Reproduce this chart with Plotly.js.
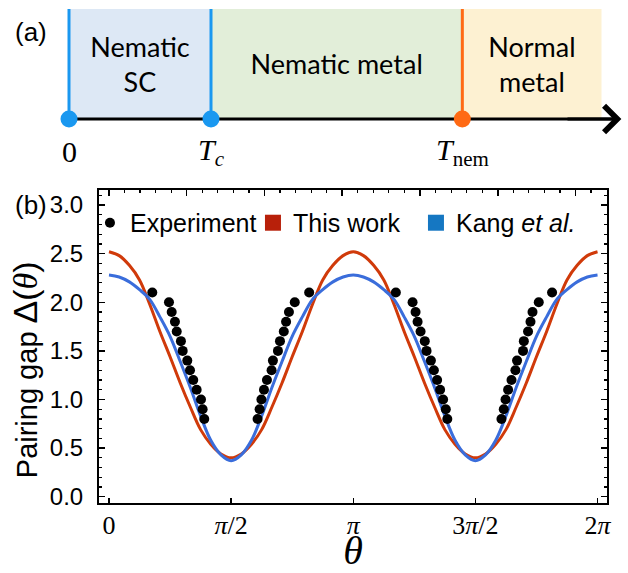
<!DOCTYPE html>
<html><head><meta charset="utf-8">
<script src="https://cdn.plot.ly/plotly-3.0.1.min.js"></script>
<style>html,body{margin:0;padding:0;background:#fff}#chart{width:628px;height:573px}</style>
</head><body><div id="chart"></div>
<script>
// ---------- Panel (a): phase diagram ----------
const phaseNames = ['Nematic<br>SC', 'Nematic metal', 'Normal<br>metal'];
const phaseEdges = [0, 1.0, 2.77, 3.75];
const phaseColors = ['#dde8f5', '#e2eed9', '#fdf1d2'];
const transitionT = [0, 1.0, 2.77];
const transitionLabels = ['0', '<i>T</i><sub><i>c</i></sub>', '<i>T</i><sub>nem</sub>'];
const transitionColors = ['#1a98f0', '#1a98f0', '#ff6a14'];
const axisEndT = 3.89;

// ---------- Panel (b): pairing gap ----------
const thetaDeg = [0,7.5,15,22.5,30,37.5,45,52.5,60,67.5,75,82.5,90,
  97.5,105,112.5,120,127.5,135,142.5,150,157.5,165,172.5,180,
  187.5,195,202.5,210,217.5,225,232.5,240,247.5,255,262.5,270,
  277.5,285,292.5,300,307.5,315,322.5,330,337.5,345,352.5,360];
const thisWork = [2.52,2.48,2.38,2.23,1.98,1.70,1.44,1.17,0.92,0.69,0.54,0.44,0.40,
  0.44,0.54,0.69,0.92,1.17,1.44,1.70,1.98,2.23,2.38,2.48,2.52,
  2.48,2.38,2.23,1.98,1.70,1.44,1.17,0.92,0.69,0.54,0.44,0.40,
  0.44,0.54,0.69,0.92,1.17,1.44,1.70,1.98,2.23,2.38,2.48,2.52];
const kang = [2.28,2.26,2.21,2.13,2.03,1.85,1.65,1.39,1.12,0.83,0.58,0.43,0.37,
  0.43,0.58,0.83,1.12,1.39,1.65,1.85,2.03,2.13,2.21,2.26,2.28,
  2.26,2.21,2.13,2.03,1.85,1.65,1.39,1.12,0.83,0.58,0.43,0.37,
  0.43,0.58,0.83,1.12,1.39,1.65,1.85,2.03,2.13,2.21,2.26,2.28];
const expThetaDeg = [31.9,44.2,46.2,48.6,49.9,53.0,54.3,57.7,59.7,62.1,64.6,67.8,69.0,70.2,
  109.5,111.0,112.3,114.2,116.4,119.8,120.8,124.5,126.0,128.8,130.5,132.6,136.9,147.5,
  211.4,223.7,225.9,227.4,229.6,232.7,234.0,237.2,239.4,241.8,244.0,246.2,248.2,249.3,
  289.2,290.9,292.2,294.1,296.6,299.5,300.7,305.1,305.7,308.8,310.6,312.1,316.7,326.5];
const expGap = [2.1,2.0,1.9,1.8,1.7,1.6,1.5,1.4,1.3,1.2,1.1,1.0,0.9,0.8,
  0.8,0.9,1.0,1.1,1.2,1.3,1.4,1.5,1.6,1.7,1.8,1.9,2.0,2.1,
  2.1,2.0,1.9,1.8,1.7,1.6,1.5,1.4,1.3,1.2,1.1,1.0,0.9,0.8,
  0.8,0.9,1.0,1.1,1.2,1.3,1.4,1.5,1.6,1.7,1.8,1.9,2.0,2.1];
const xTickVals = [0, Math.PI/2, Math.PI, 3*Math.PI/2, 2*Math.PI];
const xTickText = ['0', '<i>π</i>/2', '<i>π</i>', '3<i>π</i>/2', '2<i>π</i>'];
const seriesNames = ['Experiment', 'This work', 'Kang <i>et al.</i>'];
const lineColors = ['#d03a0a', '#3a6ddb'];
const legendColors = ['#000000', '#b8200a', '#1577c2'];
const yTitle = 'Pairing gap <span style="font-size:34px">Δ(<span style="font-family:Liberation Serif"><i>θ</i></span>)</span>';

const rad = d => d * Math.PI / 180;
const SANS = '"Liberation Sans", Arial, sans-serif';
const SERIF = '"Liberation Serif", "Times New Roman", serif';

const traces = [];
// phase regions
traces.push({
  type: 'bar', xaxis: 'x3', yaxis: 'y3',
  x: phaseNames.map((_, i) => (phaseEdges[i] + phaseEdges[i+1]) / 2),
  width: phaseNames.map((_, i) => phaseEdges[i+1] - phaseEdges[i]),
  y: phaseNames.map(() => 1), base: 0,
  marker: {color: phaseColors, line: {width: 0}},
  text: phaseNames, textposition: 'inside', insidetextanchor: 'middle',
  textangle: 0, constraintext: 'none',
  textfont: {family: 'Lato, "Open Sans", sans-serif', size: 27, color: '#000'},
  hoverinfo: 'skip', showlegend: false
});
// temperature axis line
traces.push({
  type: 'scatter', mode: 'lines', xaxis: 'x3', yaxis: 'y3',
  x: [transitionT[0], axisEndT - 0.03], y: [0, 0],
  line: {color: '#000', width: 3}, hoverinfo: 'skip', showlegend: false
});
// transition lines
transitionT.forEach((t, i) => {
  traces.push({
    type: 'scatter', mode: 'lines', xaxis: 'x3', yaxis: 'y3',
    x: [t, t], y: [0, 1], line: {color: transitionColors[i], width: 3},
    hoverinfo: 'skip', showlegend: false
  });
});
traces.push({
  type: 'scatter', mode: 'markers', xaxis: 'x3', yaxis: 'y3',
  x: transitionT, y: transitionT.map(() => 0),
  marker: {size: 17, color: transitionColors}, cliponaxis: false,
  hoverinfo: 'skip', showlegend: false
});

// panel b curves
traces.push({
  type: 'scatter', mode: 'lines', x: thetaDeg.map(rad), y: thisWork,
  line: {color: lineColors[0], width: 3, shape: 'spline', smoothing: 1},
  showlegend: false, hoverinfo: 'skip'
});
traces.push({
  type: 'scatter', mode: 'lines', x: thetaDeg.map(rad), y: kang,
  line: {color: lineColors[1], width: 3, shape: 'spline', smoothing: 1},
  showlegend: false, hoverinfo: 'skip'
});
traces.push({
  type: 'scatter', mode: 'markers', name: seriesNames[0],
  x: expThetaDeg.map(rad), y: expGap,
  marker: {size: 10, color: legendColors[0]}, hoverinfo: 'skip'
});
// legend swatches (no data), on mirrored axes
[1, 2].forEach(i => {
  traces.push({
    type: 'scatter', mode: 'markers', name: seriesNames[i],
    x: [null], y: [null], xaxis: 'x2', yaxis: 'y2',
    marker: {size: 16, symbol: 'square', color: legendColors[i]}, hoverinfo: 'skip'
  });
});

const xR = [-0.1285, 6.405];
const yR = [-0.068, 3.155];
const tickBase = {ticks: 'inside', tickcolor: '#000', tickwidth: 1.5, showgrid: false,
  zeroline: false, showline: true, linecolor: '#000', linewidth: 2, fixedrange: true};

const annotations = [
  {xref: 'x3', yref: 'y3', axref: 'x3', ayref: 'y3', x: axisEndT, y: 0, ax: 3.5, ay: 0,
    text: '', showarrow: true, arrowhead: 4, arrowsize: 1.7, arrowwidth: 3, arrowcolor: '#000'},
  {xref: 'paper', yref: 'paper', x: -0.0154, y: 0.9479, xanchor: 'center', yanchor: 'middle',
    text: '(a)', showarrow: false, font: {family: SANS, size: 26, color: '#000'}},
  {xref: 'paper', yref: 'paper', x: -0.0154, y: 0.6139, xanchor: 'center', yanchor: 'middle',
    text: '(b)', showarrow: false, font: {family: SANS, size: 26, color: '#000'}},
  {xref: 'paper', yref: 'paper', x: -0.0257, y: 0.2950, xanchor: 'center', yanchor: 'middle',
    textangle: -90, text: yTitle, showarrow: false, font: {family: SANS, size: 29, color: '#000'}}
];
transitionT.forEach((t, i) => {
  annotations.push({xref: 'x3', yref: 'y3', x: t, y: 0, xanchor: 'center', yanchor: 'middle',
    yshift: -33, text: transitionLabels[i], showarrow: false,
    font: {family: SERIF, size: 30, color: '#000'}});
});

const layout = {
  width: 628, height: 573,
  margin: {l: 40, r: 5, t: 5, b: 50, pad: 0},
  paper_bgcolor: '#fff', plot_bgcolor: 'rgba(0,0,0,0)',
  showlegend: true,
  legend: {orientation: 'h', x: 0.0857, xanchor: 'left', y: 0.5792, yanchor: 'middle',
    font: {family: SANS, size: 25, color: '#000'}, bgcolor: 'rgba(0,0,0,0)',
    entrywidth: 118, entrywidthmode: 'pixels',
    traceorder: 'normal', itemclick: false},
  xaxis: Object.assign({}, tickBase, {
    domain: [0.1012, 0.97256], range: xR, anchor: 'y',
    tickmode: 'array', tickvals: xTickVals, ticktext: xTickText, ticklen: 5,
    tickfont: {family: SERIF, size: 26, color: '#000'}, ticklabelstandoff: -3,
    title: {text: '<i>θ</i>', font: {family: SERIF, size: 40, color: '#000'}, standoff: 12}
  }),
  xaxis2: Object.assign({}, tickBase, {
    domain: [0.1012, 0.97256], range: xR, anchor: 'y', overlaying: 'x', side: 'top',
    tickmode: 'linear', tick0: 0, dtick: 1, ticklen: 6, showticklabels: false,
    minor: {tick0: 0, dtick: 0.2, ticks: 'inside', ticklen: 3, tickwidth: 1.2, tickcolor: '#000', showgrid: false}
  }),
  yaxis: Object.assign({}, tickBase, {
    domain: [0.03803, 0.64286], range: yR, anchor: 'x',
    tickmode: 'linear', tick0: 0, dtick: 0.5, tickformat: '.1f', ticklen: 6,
    minor: {tick0: 0, dtick: 0.1, ticks: 'inside', ticklen: 3, tickwidth: 1.2, tickcolor: '#000', showgrid: false},
    tickfont: {family: SANS, size: 24, color: '#000'}, ticklabelstandoff: 9
  }),
  yaxis2: Object.assign({}, tickBase, {
    domain: [0.03803, 0.64286], range: yR, anchor: 'x', overlaying: 'y', side: 'right',
    tickmode: 'linear', tick0: 0, dtick: 0.5, ticklen: 6, showticklabels: false,
    minor: {tick0: 0, dtick: 0.1, ticks: 'inside', ticklen: 3, tickwidth: 1.2, tickcolor: '#000', showgrid: false}
  }),
  xaxis3: {domain: [0, 1], anchor: 'y3', range: [-0.2042, 3.9014], showgrid: false,
    zeroline: false, showline: false, ticks: '', showticklabels: false, fixedrange: true},
  yaxis3: {domain: [0.75869, 0.99228], anchor: 'x3', range: [-0.1, 1], visible: false, fixedrange: true},
  annotations: annotations
};

Plotly.newPlot('chart', traces, layout, {displayModeBar: false, staticPlot: true});
</script></body></html>
